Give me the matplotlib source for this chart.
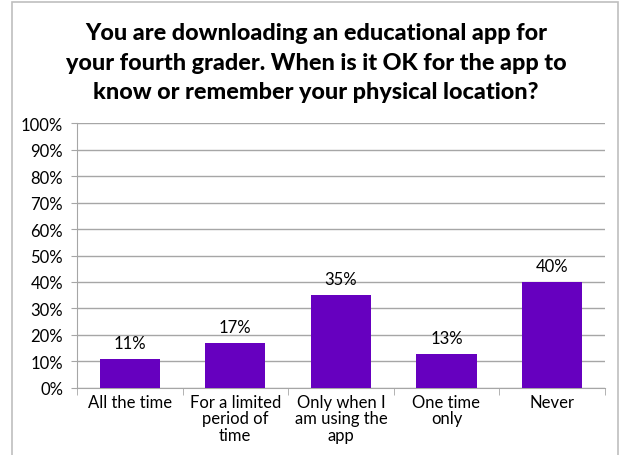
import matplotlib.pyplot as plt
from matplotlib.patches import Rectangle
from matplotlib.ticker import MultipleLocator, PercentFormatter

# --- Data ---
categories = ['All the time', 'For a limited\nperiod of\ntime', 'Only when I\nam using the\napp',
              'One time\nonly', 'Never']
values = [11, 17, 35, 13, 40]

title = ('You are downloading an educational app for\n'
         'your fourth grader. When is it OK for the app to\n'
         'know or remember your physical location?')

bar_color = '#6600BF'
grid_color = '#A6A6A6'
label_font = 'Lato'
label_size = 12

# --- Plot ---
fig = plt.figure(figsize=(6.21, 4.56), dpi=100)
ax = fig.add_axes([0.124, 0.147, 0.85, 0.581])

x = range(len(categories))
ax.bar(x, values, width=0.57, color=bar_color, zorder=3)
for xi, v in zip(x, values):
    ax.text(xi, v + 3, f'{v}%', ha='center', va='bottom', fontsize=label_size, family=label_font)

ax.set_xlim(-0.5, len(categories) - 0.5)
ax.set_ylim(0, 100)
ax.yaxis.set_major_locator(MultipleLocator(10))
ax.yaxis.set_major_formatter(PercentFormatter(decimals=0))
ax.grid(axis='y', color=grid_color, linewidth=1, zorder=0)

ax.set_xticks(x)
ax.set_xticklabels(categories, fontsize=label_size, family=label_font, linespacing=1.05)
ax.set_xticks([i + 0.5 for i in range(-1, len(categories))], minor=True)
ax.tick_params(axis='x', which='major', length=0, pad=4)
ax.tick_params(axis='x', which='minor', length=5, color=grid_color)
ax.tick_params(axis='y', length=4, color=grid_color, labelsize=label_size, pad=6)
for lbl in ax.get_yticklabels():
    lbl.set_family(label_font)

for side in ['top', 'right']:
    ax.spines[side].set_visible(False)
for side in ['left', 'bottom']:
    ax.spines[side].set_color(grid_color)

fig.text(0.509, 0.949, title, ha='center', va='top', fontsize=16.8, fontweight='black',
         family='Lato', linespacing=1.5)

# outer chart border
fig.patches.append(Rectangle((12 / 621, -0.01), 606 / 621, 1 - 3 / 456 + 0.01,
                             transform=fig.transFigure, fill=False,
                             edgecolor='#BFBFBF', linewidth=1.2))

plt.savefig('out.png')
